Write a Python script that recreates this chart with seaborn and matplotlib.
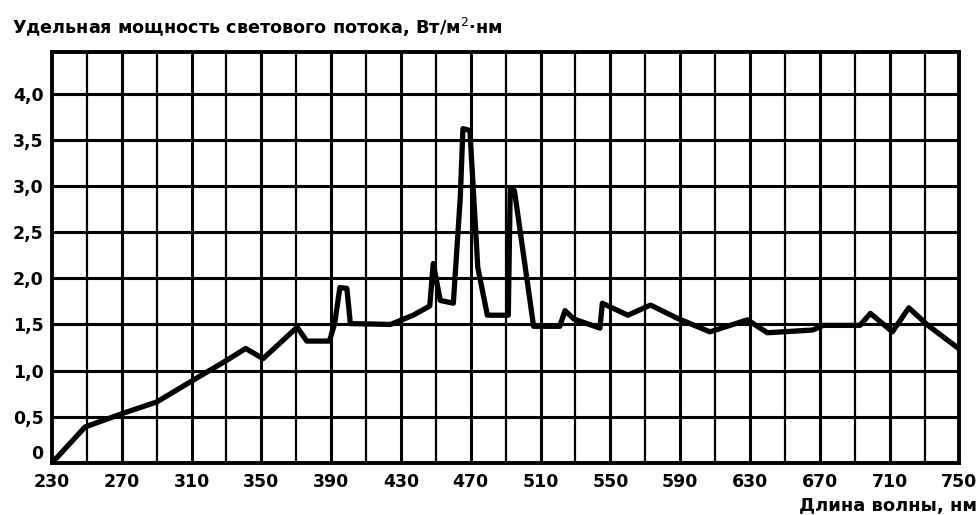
import matplotlib
matplotlib.use("Agg")
import matplotlib.pyplot as plt
import numpy as np
import pandas as pd
import seaborn as sns

# Spectrum
wavelength = [230, 249, 271, 290, 313, 330, 341, 351, 370.5, 376, 389, 392,
              395, 399, 401, 424, 437, 446.5, 448.5, 452.5, 460, 464, 465.5,
              469.5, 474, 479.5, 491.5, 492.6, 495, 506, 521, 524, 529, 544,
              545.4, 560, 573, 588, 607, 628.5, 640, 666, 672, 693, 699,
              711.6, 721, 732, 749.5]
power = [0.0, 0.39, 0.54, 0.66, 0.92, 1.11, 1.24, 1.13, 1.47, 1.32, 1.32,
         1.51, 1.9, 1.89, 1.51, 1.5, 1.6, 1.7, 2.16, 1.76, 1.73, 2.88, 3.62,
         3.6, 2.12, 1.6, 1.6, 2.97, 2.95, 1.48, 1.48, 1.65, 1.56, 1.46, 1.73,
         1.6, 1.71, 1.57, 1.42, 1.55, 1.41, 1.44, 1.49, 1.49, 1.62, 1.42,
         1.68, 1.49, 1.24]

x_ticks = list(range(230, 751, 40))
y_ticks = [0, 0.5, 1.0, 1.5, 2.0, 2.5, 3.0, 3.5, 4.0]
y_tick_labels = ["0", "0,5", "1,0", "1,5", "2,0", "2,5", "3,0", "3,5", "4,0"]

df = pd.DataFrame({"nm": wavelength, "power": power})

sns.set_style("white")
plt.rcParams["font.family"] = ["DejaVu Sans"]
plt.rcParams["text.color"] = "black"
plt.rcParams["xtick.color"] = "black"
plt.rcParams["ytick.color"] = "black"

fig = plt.figure(figsize=(9.8, 5.15), dpi=100)
ax = fig.add_axes([0.053, 0.101, 0.926, 0.798])

# grid: vertical every 20 nm, horizontal every 0.5
for xv in range(250, 750, 20):
    lw = 2.2 if (xv - 230) % 40 == 0 else 1.6
    ax.axvline(xv, color="black", lw=lw, zorder=1)
for yv in np.arange(0.5, 4.5, 0.5):
    ax.axhline(yv, color="black", lw=2.2, zorder=1)

sns.lineplot(data=df, x="nm", y="power", ax=ax, color="black", lw=3.8,
             sort=False, zorder=3)

ax.set_xlim(230, 750)
ax.set_ylim(0, 4.45)
ax.set_xticks(x_ticks)
ax.set_xticklabels([str(v) for v in x_ticks], fontsize=12.5, fontweight="bold")
ax.set_yticks(y_ticks)
ax.set_yticklabels(y_tick_labels, fontsize=12.5, fontweight="bold")
ax.tick_params(axis="x", length=0, pad=7)
ax.tick_params(axis="y", length=0, pad=6)
ax.get_yticklabels()[0].set_va("bottom")
ax.set_xlabel("")
ax.set_ylabel("")
for s in ax.spines.values():
    s.set_color("black")
    s.set_linewidth(2.8)

fig.text(0.012, 0.925, "Удельная мощность светового потока, Вт/м$^2$·нм",
         fontsize=12.7, fontweight="bold", ha="left", va="bottom")
fig.text(0.997, 0.0, "Длина волны, нм", fontsize=13, fontweight="bold",
         ha="right", va="bottom")

fig.savefig("out.png", dpi=100)
